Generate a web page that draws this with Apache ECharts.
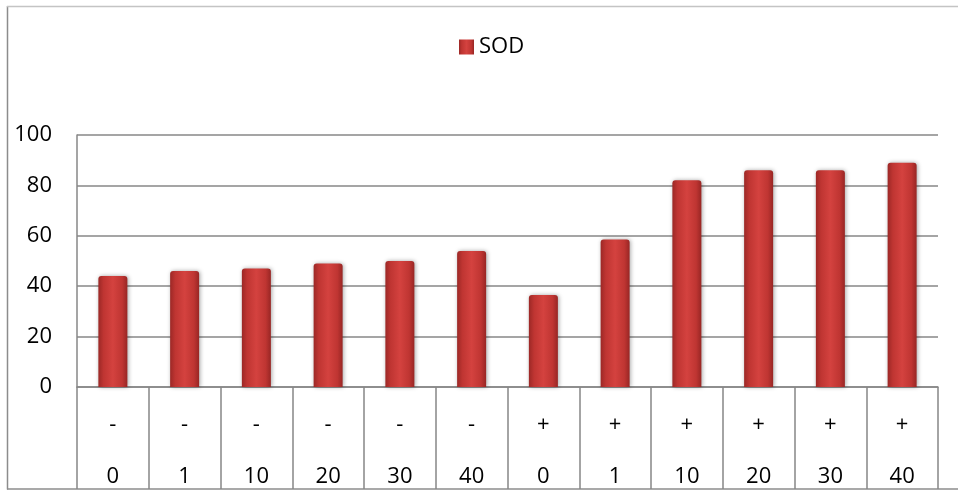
<!DOCTYPE html>
<html>
<head>
<meta charset="utf-8">
<script src="https://cdn.jsdelivr.net/npm/echarts@6/dist/echarts.min.js"></script>
<style>
  html, body { margin: 0; padding: 0; background: #fff; }
  #chart { width: 958px; height: 491px; }
</style>
</head>
<body>
<div id="chart"></div>
<script>
// Treatment (sign) and dose rows of the category table
const signs = ['-', '-', '-', '-', '-', '-', '+', '+', '+', '+', '+', '+'];
const doses = ['0', '1', '10', '20', '30', '40', '0', '1', '10', '20', '30', '40'];
// SOD activity per group
const sodValues = [44, 46, 47, 49, 50, 54, 36.5, 58.5, 82, 86, 86, 89];
// Value axis ticks
const yTicks = [0, 20, 40, 60, 80, 100];

const categories = signs.map((s, i) => s + '|' + doses[i]);

const FONT = 'Open Sans';
const FONT_SIZE = 22;
const GRID_COLOR = '#878787';

const chart = echarts.init(document.getElementById('chart'));

const barFill = new echarts.graphic.LinearGradient(0, 0, 1, 0, [
  { offset: 0, color: '#9c2826' },
  { offset: 0.18, color: '#bf3532' },
  { offset: 0.5, color: '#d4423f' },
  { offset: 0.82, color: '#bf3532' },
  { offset: 1, color: '#982624' }
]);

chart.setOption({
  animation: false,
  backgroundColor: '#ffffff',
  textStyle: { fontFamily: FONT, color: '#000' },
  legend: {
    left: 454,
    top: 31,
    itemWidth: 15,
    itemHeight: 15,
    itemGap: 10,
    icon: 'rect',
    textStyle: { fontFamily: FONT, fontSize: FONT_SIZE, color: '#000' },
    data: ['SOD']
  },
  grid: {
    left: 77,
    right: 20,
    top: 135,
    bottom: 104,
    containLabel: false
  },
  xAxis: {
    type: 'category',
    data: categories,
    boundaryGap: true,
    axisLine: { show: true, lineStyle: { color: GRID_COLOR, width: 1.5 } },
    axisTick: {
      show: true,
      alignWithLabel: false,
      length: 102,
      lineStyle: { color: GRID_COLOR, width: 1.5 }
    },
    axisLabel: {
      interval: 0,
      margin: 12,
      formatter: function (v) {
        const parts = v.split('|');
        return '{s|' + parts[0] + '}\n{d|' + parts[1] + '}';
      },
      rich: {
        s: { fontFamily: FONT, fontSize: FONT_SIZE, lineHeight: 52, color: '#000' },
        d: { fontFamily: FONT, fontSize: FONT_SIZE, lineHeight: 52, color: '#000' }
      }
    }
  },
  yAxis: {
    type: 'value',
    min: yTicks[0],
    max: yTicks[yTicks.length - 1],
    interval: yTicks[1] - yTicks[0],
    axisLine: { show: true, lineStyle: { color: GRID_COLOR, width: 1.5 } },
    axisTick: { show: false },
    axisLabel: {
      margin: 25,
      fontFamily: FONT,
      fontSize: FONT_SIZE,
      color: '#000'
    },
    splitLine: { show: true, lineStyle: { color: GRID_COLOR, width: 1.5 } }
  },
  series: [{
    name: 'SOD',
    type: 'bar',
    data: sodValues,
    barWidth: 29,
    itemStyle: {
      color: barFill,
      borderRadius: [3, 3, 0, 0],
      shadowColor: 'rgba(0,0,0,0.35)',
      shadowBlur: 4,
      shadowOffsetX: 1,
      shadowOffsetY: 0
    }
  }],
  graphic: [
    // Outer frame of the chart area (left, top, bottom edges)
    {
      type: 'line', silent: true,
      shape: { x1: 7.5, y1: 6, x2: 7.5, y2: 489.5 },
      style: { stroke: '#8c8c8c', lineWidth: 1.5 }
    },
    {
      type: 'line', silent: true,
      shape: { x1: 7, y1: 6.5, x2: 958, y2: 6.5 },
      style: { stroke: '#c4c4c4', lineWidth: 1.5 }
    },
    {
      type: 'line', silent: true,
      shape: { x1: 7, y1: 489, x2: 958, y2: 489 },
      style: { stroke: '#8c8c8c', lineWidth: 1.5 }
    }
  ]
});
</script>
</body>
</html>
